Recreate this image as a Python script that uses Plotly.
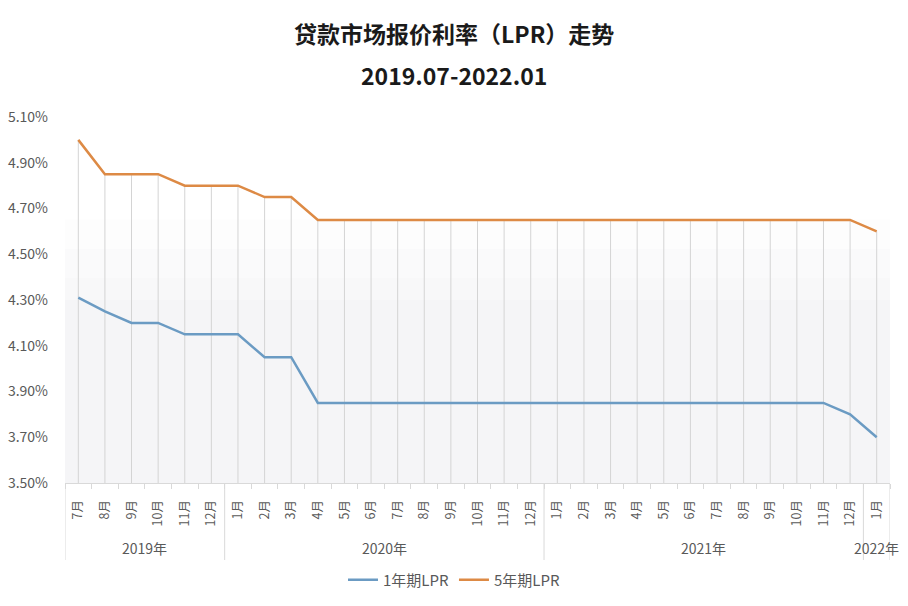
import plotly.graph_objects as go

months = ["7月", "8月", "9月", "10月", "11月", "12月",
          "1月", "2月", "3月", "4月", "5月", "6月", "7月", "8月", "9月", "10月", "11月", "12月",
          "1月", "2月", "3月", "4月", "5月", "6月", "7月", "8月", "9月", "10月", "11月", "12月",
          "1月"]
years = ["2019年", "2020年", "2021年", "2022年"]
year_counts = [6, 12, 12, 1]

lpr_1y = [4.31, 4.25, 4.20, 4.20, 4.15, 4.15,
          4.15, 4.05, 4.05, 3.85, 3.85, 3.85, 3.85, 3.85, 3.85, 3.85, 3.85, 3.85,
          3.85, 3.85, 3.85, 3.85, 3.85, 3.85, 3.85, 3.85, 3.85, 3.85, 3.85, 3.80,
          3.70]
lpr_5y = [5.00, 4.85, 4.85, 4.85, 4.80, 4.80,
          4.80, 4.75, 4.75, 4.65, 4.65, 4.65, 4.65, 4.65, 4.65, 4.65, 4.65, 4.65,
          4.65, 4.65, 4.65, 4.65, 4.65, 4.65, 4.65, 4.65, 4.65, 4.65, 4.65, 4.65,
          4.60]

y_min, y_max = 3.5, 5.1
x = list(range(len(months)))
FONT = "Noto Sans CJK SC"
GRAY = "#595959"
LINEC = "#d9d9d9"

fig = go.Figure()

# drop lines from top series to the axis
dx, dy = [], []
for i, v in enumerate(lpr_5y):
    dx += [i, i, None]
    dy += [v, y_min, None]
fig.add_trace(go.Scatter(x=dx, y=dy, mode="lines", line=dict(color="#d4d4d4", width=1),
                         hoverinfo="skip", showlegend=False))

fig.add_trace(go.Scatter(x=x, y=lpr_1y, mode="lines", name="1年期LPR",
                         line=dict(color="#6b9bc3", width=2.5)))
fig.add_trace(go.Scatter(x=x, y=lpr_5y, mode="lines", name="5年期LPR",
                         line=dict(color="#dd8a45", width=2.5)))

# plot background bands (subtle gradient)
bands = [(0.0, 0.5, "#f5f5f7"), (0.5, 0.56, "#f8f8f9"), (0.56, 0.64, "#fafafb"), (0.64, 0.72, "#fdfdfd")]
shapes = []
for y0, y1, c in bands:
    shapes.append(dict(type="rect", xref="paper", yref="paper", x0=0, x1=1, y0=y0, y1=y1,
                       fillcolor=c, line=dict(width=0), layer="below"))

# category box dividers
bottom = -(560 - 483) / 366
bounds = [-0.5]
acc = -0.5
for n in year_counts:
    acc += n
    bounds.append(acc)
for b in bounds:
    shapes.append(dict(type="line", xref="x", yref="paper", x0=b, x1=b, y0=0, y1=bottom,
                       line=dict(color=LINEC, width=1)))

annotations = []
start = 0
for yr, n in zip(years, year_counts):
    center = start + (n - 1) / 2
    annotations.append(dict(x=center, y=-(548 - 483) / 366, xref="x", yref="paper",
                            text=yr, showarrow=False, yanchor="middle",
                            font=dict(family=FONT, size=14, color=GRAY)))
    start += n

xc = (454 - 65) / 825
annotations.append(dict(x=xc, y=(483 - 33) / 366, xref="paper", yref="paper",
                        text="<b>贷款市场报价利率（LPR）走势</b>", showarrow=False, yanchor="middle",
                        font=dict(family=FONT, size=23, color="#1a1a1a")))
annotations.append(dict(x=xc, y=(483 - 75) / 366, xref="paper", yref="paper",
                        text="<b>2019.07-2022.01</b>", showarrow=False, yanchor="middle",
                        font=dict(family=FONT, size=23, color="#1a1a1a")))

fig.update_layout(
    width=908, height=606, autosize=False,
    margin=dict(l=65, r=18, t=117, b=123, autoexpand=False),
    paper_bgcolor="white", plot_bgcolor="white",
    font=dict(family=FONT, color=GRAY),
    shapes=shapes, annotations=annotations,
    showlegend=True,
    legend=dict(orientation="h", x=xc, xanchor="center",
                y=-(580 - 483) / 366, yanchor="middle",
                font=dict(family=FONT, size=15, color=GRAY)),
    xaxis=dict(range=[-0.5, len(months) - 0.5], tickmode="array", tickvals=x, ticktext=months,
               tickangle=-90, ticks="", showgrid=False, zeroline=False, automargin=False,
               showline=True, linecolor=LINEC, linewidth=1,
               tickfont=dict(family=FONT, size=12.5, color=GRAY), ticklabelstandoff=11,
               minor=dict(tickmode="linear", tick0=0.5, dtick=1, ticks="outside", ticklen=5,
                          tickcolor=LINEC, tickwidth=1, showgrid=False)),
    yaxis=dict(range=[y_min, y_max], dtick=0.2, tick0=3.5, tickformat=".2f", ticksuffix="%",
               showgrid=False, zeroline=False, showline=False, ticks="", automargin=False,
               tickfont=dict(family=FONT, size=14, color=GRAY), ticklabelstandoff=16),
)

fig.write_html("out.html")
